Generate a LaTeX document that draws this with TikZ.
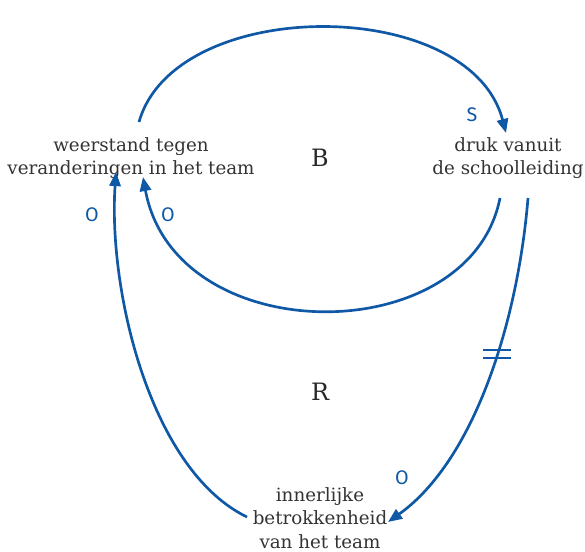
\documentclass[tikz,border=0pt]{standalone}
\usepackage{fontspec}
\setmainfont{DejaVu Serif}
\newfontfamily\labelfont{Fira Sans}
\usetikzlibrary{arrows.meta}
\definecolor{loopblue}{RGB}{14,88,166}

\begin{document}
\begin{tikzpicture}[x=0.025cm,y=-0.025cm,
    var node/.style={align=center,font=\fontsize{13}{16.5}\selectfont,text=black!80,inner sep=0pt},
    loop name/.style={font=\fontsize{17}{20}\selectfont,text=black!85},
    sign/.style={font=\labelfont\fontsize{14}{16}\selectfont,text=loopblue},
    link/.style={draw=loopblue,line width=1.9pt,-{Triangle[length=10pt,width=8pt]}}]
  \useasboundingbox (0,0) rectangle (585,552);

  \node[var node] (weerstand) at (131,158) {weerstand tegen\\veranderingen in het team};
  \node[var node] (druk) at (508,158) {druk vanuit\\de schoolleiding};
  \node[var node] (betrokken) at (320,518) {innerlijke\\betrokkenheid\\van het team};

  \node[loop name] (B) at (320,158) {B};
  \node[loop name] (R) at (320,392) {R};

  \node[sign] (s1) at (472,115) {S};
  \node[sign] (o1) at (92,215) {O};
  \node[sign] (o2) at (168,215) {O};
  \node[sign] (o3) at (402,478) {O};

  % balancing loop
  \draw[link] ([shift={(8,-36)}]weerstand.center) .. controls (175,-5) and (470,-5) .. ([shift={(-2,-25)}]druk.center);
  \draw[link] ([shift={(-8,40)}]druk.center) .. controls (470,351) and (175,351) .. ([shift={(12,19)}]weerstand.center);

  % reinforcing loop
  \draw[link] ([shift={(20,40)}]druk.center) .. controls (518,320) and (475,460) .. coordinate[pos=0.42] (delay) ([shift={(68,4)}]betrokken.center);
  \draw[link] ([shift={(-73,-1)}]betrokken.center) .. controls (150,470) and (108,290) .. ([shift={(-15,14)}]weerstand.center);

  % delay marks
  \draw[loopblue,line width=1.9pt] ([shift={(-14,-4)}]delay) -- ([shift={(14,-4)}]delay)
    ([shift={(-14,4)}]delay) -- ([shift={(14,4)}]delay);
\end{tikzpicture}
\end{document}
